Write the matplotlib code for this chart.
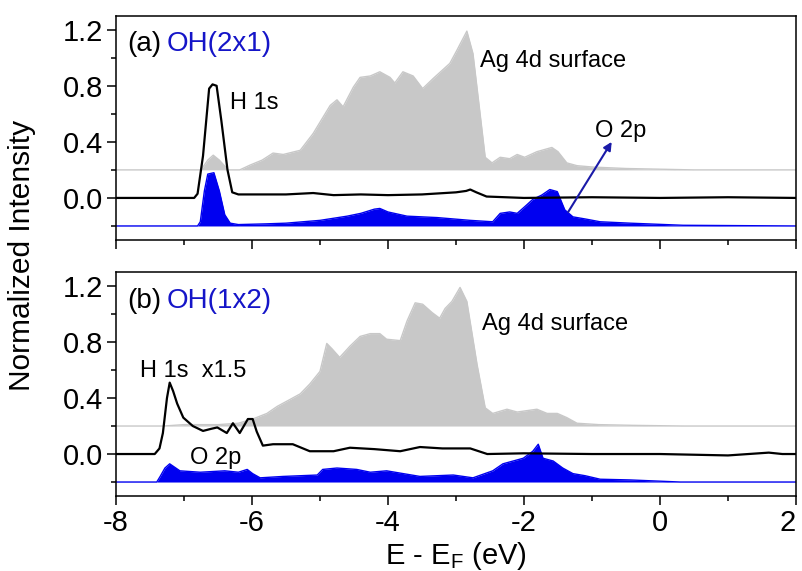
import numpy as np
import matplotlib
matplotlib.use("Agg")
import matplotlib.pyplot as plt

# ---------------------
# dados (intensidade relativa a cada linha de base)
# ---------------------
# (a) OH(2x1)
a_ag_x = [-8.0, -6.75, -6.65, -6.57, -6.48, -6.35, -6.18, -6.03, -5.85, -5.69, -5.54, -5.29,
          -5.10, -4.85, -4.75, -4.66, -4.51, -4.41, -4.26, -4.12, -3.97, -3.90, -3.78, -3.63,
          -3.49, -3.34, -3.09, -2.99, -2.84, -2.75, -2.65, -2.57, -2.47, -2.35, -2.21, -2.10,
          -1.99, -1.81, -1.59, -1.50, -1.37, -1.22, -0.98, -0.5, 0.0, 0.5, 2.0]
a_ag_y = [0.0, 0.0, 0.07, 0.105, 0.07, 0.0, 0.0, 0.034, 0.07, 0.12, 0.11, 0.14,
          0.26, 0.46, 0.50, 0.45, 0.59, 0.66, 0.67, 0.70, 0.66, 0.62, 0.70, 0.67,
          0.58, 0.65, 0.76, 0.85, 0.99, 0.83, 0.42, 0.09, 0.05, 0.09, 0.08, 0.11,
          0.09, 0.13, 0.16, 0.13, 0.05, 0.03, 0.02, 0.01, 0.005, 0.0, 0.0]

a_h_x = [-8.0, -6.85, -6.80, -6.72, -6.63, -6.58, -6.52, -6.45, -6.36, -6.29, -6.2, -6.0,
         -5.5, -5.1, -4.8, -4.4, -4.0, -3.5, -3.0, -2.85, -2.79, -2.7, -2.55, -2.0,
         -1.0, 0.0, 1.0, 2.0]
a_h_y = [0.0, 0.0, 0.03, 0.30, 0.78, 0.81, 0.80, 0.55, 0.20, 0.04, 0.025, 0.025,
         0.025, 0.035, 0.02, 0.025, 0.02, 0.025, 0.04, 0.05, 0.06, 0.04, 0.01, 0.0,
         0.005, 0.0, 0.005, 0.0]

a_o_x = [-8.0, -6.80, -6.76, -6.70, -6.65, -6.56, -6.48, -6.40, -6.32, -6.2, -5.8, -5.5,
         -5.0, -4.6, -4.4, -4.2, -4.12, -4.0, -3.72, -3.28, -2.79, -2.46, -2.35, -2.21,
         -2.10, -1.96, -1.87, -1.74, -1.62, -1.51, -1.40, -1.28, -1.10, -0.88, -0.44,
         0.34, 2.0]
a_o_y = [0.0, 0.0, 0.03, 0.25, 0.37, 0.38, 0.25, 0.08, 0.02, 0.01, 0.015, 0.02,
         0.04, 0.07, 0.09, 0.12, 0.125, 0.10, 0.07, 0.06, 0.04, 0.03, 0.09, 0.10,
         0.09, 0.15, 0.19, 0.22, 0.26, 0.245, 0.115, 0.065, 0.05, 0.03, 0.02,
         0.005, 0.0]

# (b) OH(1x2)
b_ag_x = [-8.0, -7.3, -7.0, -6.5, -6.2, -5.99, -5.78, -5.63, -5.44, -5.29, -5.15, -5.0,
          -4.90, -4.82, -4.71, -4.56, -4.41, -4.26, -4.12, -4.02, -3.82, -3.72, -3.60,
          -3.49, -3.35, -3.24, -3.16, -3.06, -2.94, -2.84, -2.69, -2.57, -2.46, -2.25,
          -2.1, -1.81, -1.66, -1.51, -1.37, -1.22, -0.9, -0.4, 0.34, 2.0]
b_ag_y = [0.0, 0.0, 0.01, 0.01, 0.02, 0.05, 0.09, 0.14, 0.19, 0.23, 0.30, 0.39,
          0.59, 0.55, 0.49, 0.57, 0.64, 0.66, 0.66, 0.62, 0.61, 0.75, 0.88,
          0.87, 0.81, 0.77, 0.84, 0.89, 0.99, 0.89, 0.44, 0.13, 0.09, 0.12,
          0.10, 0.12, 0.09, 0.09, 0.06, 0.02, 0.01, 0.005, 0.0, 0.0]

b_h_x = [-8.0, -7.43, -7.36, -7.31, -7.25, -7.21, -7.16, -7.10, -7.01, -6.87, -6.72, -6.60,
         -6.51, -6.37, -6.28, -6.18, -6.06, -5.99, -5.93, -5.84, -5.69, -5.40, -5.15, -4.8,
         -4.56, -4.2, -3.82, -3.53, -3.2, -2.79, -2.54, -2.0, -1.0, 0.0, 1.0, 1.6, 1.8, 2.0]
b_h_y = [0.0, 0.0, 0.04, 0.15, 0.40, 0.51, 0.45, 0.36, 0.26, 0.20, 0.165, 0.18,
         0.19, 0.15, 0.22, 0.15, 0.25, 0.25, 0.16, 0.06, 0.07, 0.07, 0.02, 0.02,
         0.045, 0.035, 0.02, 0.05, 0.04, 0.04, 0.0, 0.005, 0.0, 0.0, -0.01, 0.01, 0.0, 0.0]

b_o_x = [-8.0, -7.40, -7.35, -7.28, -7.21, -7.06, -6.76, -6.4, -6.2, -6.07, -5.99, -5.88,
         -5.54, -5.04, -4.96, -4.75, -4.46, -4.26, -4.02, -3.53, -3.04, -2.75, -2.46,
         -2.31, -2.01, -1.87, -1.79, -1.72, -1.57, -1.43, -1.28, -1.10, -0.88, -0.44,
         0.3, 2.0]
b_o_y = [0.0, 0.0, 0.04, 0.10, 0.13, 0.08, 0.07, 0.08, 0.07, 0.09, 0.06, 0.03,
         0.04, 0.05, 0.09, 0.10, 0.09, 0.07, 0.08, 0.04, 0.05, 0.03, 0.08,
         0.13, 0.17, 0.22, 0.27, 0.17, 0.15, 0.10, 0.06, 0.045, 0.02, 0.015,
         0.0, 0.0]

x_labels = ["-8", "-6", "-4", "-2", "0", "2"]

# deslocamentos verticais (Ag, H, O)
OFF_AG, OFF_H, OFF_O = 0.2, 0.0, -0.2

GRAY = "#c8c8c8"
BLUE = "#0000f0"
TXT_BLUE = "#1515c8"

plt.rcParams["font.family"] = ["Liberation Sans", "DejaVu Sans"]
plt.rcParams["mathtext.fontset"] = "custom"
plt.rcParams["mathtext.rm"] = "Liberation Sans"
plt.rcParams["mathtext.it"] = "Liberation Sans:italic"
plt.rcParams["axes.unicode_minus"] = False

fig = plt.figure(figsize=(8.02, 5.71), dpi=100)
ax_a = fig.add_axes([0.1446, 0.5797, 0.8479, 0.3928])
ax_b = fig.add_axes([0.1446, 0.1313, 0.8479, 0.3923])


def draw_panel(ax, ag_x, ag_y, h_x, h_y, o_x, o_y):
    ag = OFF_AG + np.array(ag_y)
    ax.fill_between(ag_x, OFF_AG, ag, color=GRAY, lw=0)
    ax.plot(ag_x, ag, color=GRAY, lw=1.0)
    o = OFF_O + np.array(o_y)
    ax.fill_between(o_x, OFF_O, o, color=BLUE, lw=0)
    ax.plot(o_x, o, color=BLUE, lw=1.0)
    ax.plot(h_x, OFF_H + np.array(h_y), color="black", lw=1.6)

    ax.set_xlim(-8, 2)
    ax.set_ylim(-0.3, 1.3)
    ax.set_xticks(np.arange(-8, 2.1, 2))
    ax.set_xticks(np.arange(-7, 2, 2), minor=True)
    ax.set_yticks([0.0, 0.4, 0.8, 1.2])
    ax.set_yticks([-0.2, 0.2, 0.6, 1.0], minor=True)
    ax.set_yticklabels(["0.0", "0.4", "0.8", "1.2"])
    ax.tick_params(which="both", direction="out", top=False, right=False,
                   width=1.1, labelsize=21)
    ax.tick_params(which="major", length=6.5, pad=3)
    ax.tick_params(which="minor", length=3.5)
    for sp in ax.spines.values():
        sp.set_linewidth(1.1)


draw_panel(ax_a, a_ag_x, a_ag_y, a_h_x, a_h_y, a_o_x, a_o_y)
draw_panel(ax_b, b_ag_x, b_ag_y, b_h_x, b_h_y, b_o_x, b_o_y)
ax_a.tick_params(labelbottom=False)
ax_b.set_xticklabels(x_labels)
# o "2" fica colado na borda direita da figura
ax_b.get_xticklabels()[-1].set_horizontalalignment("right")

# textos painel (a)
ax_a.text(-7.84, 1.10, "(a)", fontsize=20, va="center")
ax_a.text(-7.26, 1.10, "OH(2x1)", fontsize=20, va="center", color=TXT_BLUE)
ax_a.text(-6.32, 0.68, "H 1s", fontsize=17, va="center")
ax_a.text(-2.65, 0.98, "Ag 4d surface", fontsize=17, va="center")
ax_a.text(-0.96, 0.48, "O 2p", fontsize=17, va="center")
ax_a.annotate("", xy=(-0.71, 0.40), xytext=(-1.35, -0.10),
              arrowprops=dict(arrowstyle="-|>", color="#1a1aa8", lw=1.5,
                              mutation_scale=12, shrinkA=0, shrinkB=0))

# textos painel (b)
ax_b.text(-7.84, 1.09, "(b)", fontsize=20, va="center")
ax_b.text(-7.26, 1.09, "OH(1x2)", fontsize=20, va="center", color=TXT_BLUE)
ax_b.text(-7.65, 0.59, "H 1s  x1.5", fontsize=17, va="center")
ax_b.text(-6.91, -0.03, "O 2p", fontsize=17, va="center")
ax_b.text(-2.62, 0.93, "Ag 4d surface", fontsize=17, va="center")

fig.text(0.027, 0.552, "Normalized Intensity", rotation=90, fontsize=21.5,
         ha="center", va="center")
fig.text(0.568, 0.013, r"E - E$_\mathrm{F}$ (eV)", fontsize=21,
         ha="center", va="baseline")

fig.savefig("out.png", dpi=100)
